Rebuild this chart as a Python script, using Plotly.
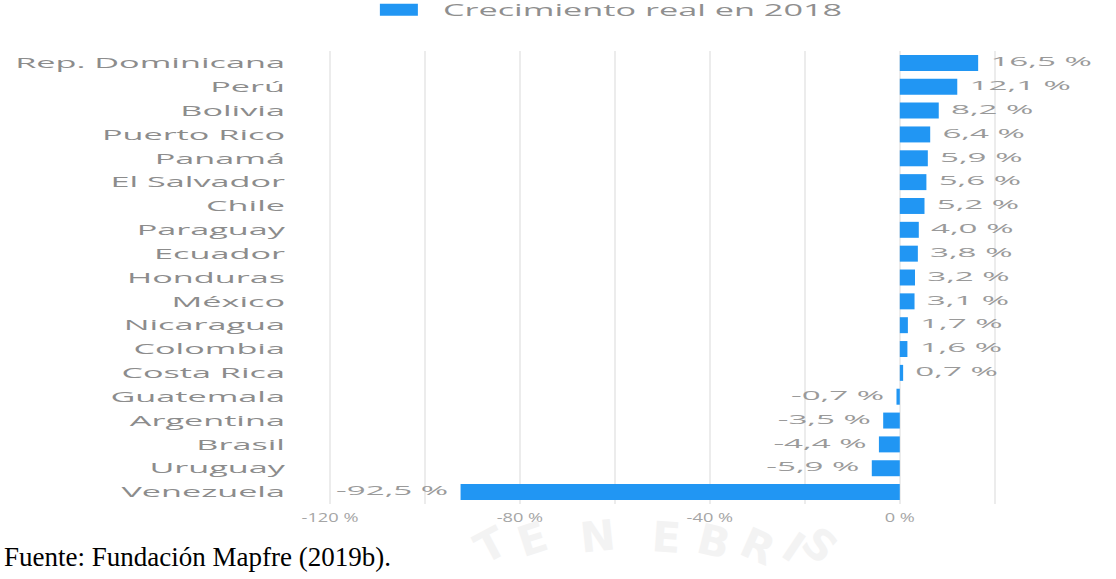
import plotly.graph_objects as go

countries = ["Rep. Dominicana", "Perú", "Bolivia", "Puerto Rico", "Panamá", "El Salvador",
             "Chile", "Paraguay", "Ecuador", "Honduras", "México", "Nicaragua", "Colombia",
             "Costa Rica", "Guatemala", "Argentina", "Brasil", "Uruguay", "Venezuela"]
growth = [16.5, 12.1, 8.2, 6.4, 5.9, 5.6, 5.2, 4.0, 3.8, 3.2, 3.1, 1.7, 1.6, 0.7,
          -0.7, -3.5, -4.4, -5.9, -92.5]
value_labels = ["16,5 %", "12,1 %", "8,2 %", "6,4 %", "5,9 %", "5,6 %", "5,2 %", "4,0 %",
                "3,8 %", "3,2 %", "3,1 %", "1,7 %", "1,6 %", "0,7 %", "-0,7 %", "-3,5 %",
                "-4,4 %", "-5,9 %", "-92,5 %"]
tick_vals = [-120, -100, -80, -60, -40, -20, 0, 20]
tick_text = ["-120 %", "", "-80 %", "", "-40 %", "", "0 %", ""]
series_name = "Crecimiento real en 2018"
source_text = "Fuente: Fundación Mapfre (2019b)."
watermark_letters = ["T", "E", "N", "E", "B", "R", "I", "S"]

BLUE = "#2196F3"
GRAY = "#9a9a9a"
FONT = "Open Sans"

W, H = 1116, 579
ML, MR, MT, MB = 292, 31, 51, 75
PW, PH = W - ML - MR, H - MT - MB

def px_to_paper(px, py):
    return (px - ML) / PW, (H - MB - py) / PH

fig = go.Figure()
fig.add_trace(go.Bar(
    x=growth, y=countries, orientation="h", name=series_name,
    marker=dict(color=BLUE, line=dict(width=0)),
))
fig.add_trace(go.Scatter(
    x=growth, y=countries, mode="markers+text", text=value_labels,
    textposition=["middle right" if v >= 0 else "middle left" for v in growth],
    marker=dict(size=18, color="rgba(0,0,0,0)"),
    textfont=dict(family=FONT, size=13, color=GRAY),
    showlegend=False, hoverinfo="skip", cliponaxis=False,
))

annotations = []
# faint watermark letters (background decoration)
wm_pos = [(490, 545, -28), (532, 539, -18), (597, 536, -6), (666, 537, 4),
          (714, 541, 14), (758, 546, 24), (794, 547, 34), (820, 545, 42)]
for ch, (px, py, ang) in zip(watermark_letters, wm_pos):
    ax_, ay_ = px_to_paper(px, py)
    annotations.append(dict(text=ch, xref="paper", yref="paper", x=ax_, y=ay_,
                            xanchor="center", yanchor="middle", showarrow=False,
                            textangle=ang,
                            font=dict(family="DejaVu Sans", size=42, color="#f3f3f3",
                                      weight="bold")))
sx, sy = px_to_paper(2, 557)
annotations.append(dict(text=source_text, xref="paper", yref="paper",
                        x=sx, y=sy, xanchor="left", yanchor="middle", showarrow=False,
                        font=dict(family="Liberation Serif", size=27, color="black")))

fig.update_layout(
    width=W, height=H,
    margin=dict(l=ML, r=MR, t=MT, b=MB, autoexpand=False),
    paper_bgcolor="white", plot_bgcolor="white",
    bargap=0.33,
    font=dict(family=FONT, color=GRAY),
    showlegend=True,
    legend=dict(orientation="h", xref="container", yref="container",
                x=0.3395, y=0.983, xanchor="left", yanchor="middle",
                entrywidth=440,
                font=dict(family=FONT, size=16, color="#8f8f8f"),
                bgcolor="rgba(0,0,0,0)"),
    xaxis=dict(range=[-128, 39], tickvals=tick_vals, ticktext=tick_text,
               showgrid=True, gridcolor="#ececec", gridwidth=2,
               zeroline=False, showline=False, ticks="", automargin=False,
               ticklabelstandoff=4,
               tickfont=dict(family=FONT, size=13, color="#a5a5a5")),
    yaxis=dict(range=[len(countries) - 0.5, -0.5], showgrid=False, zeroline=False,
               showline=False, ticks="", ticklabelstandoff=6, automargin=False,
               tickfont=dict(family=FONT, size=15, color="#8c8c8c")),
    annotations=annotations,
)

post = """
document.body.style.margin = '0';
var gd = document.getElementById('{plot_id}');
function stretch(sel, f){
  gd.querySelectorAll(sel).forEach(function(t){
    var w = t.getComputedTextLength();
    if (w > 0){ t.setAttribute('textLength', (w*f).toFixed(1)); t.setAttribute('lengthAdjust','spacingAndGlyphs'); }
  });
}
stretch('.ytick text', 2.28);
stretch('.xtick text', 1.4);
stretch('.legendtext', 2.14);
stretch('.textpoint text', 2.55);
gd.querySelectorAll('.legend [clip-path]').forEach(function(e){ e.removeAttribute('clip-path'); });
gd.querySelectorAll('.legend').forEach(function(e){ e.style.overflow = 'visible'; });
gd.querySelectorAll('.legendpoints path').forEach(function(p){
  p.setAttribute('d', 'M39,6H1V-6H39Z');
  p.removeAttribute('transform');
});
gd.querySelectorAll('.legendtext').forEach(function(t){
  var x = parseFloat(t.getAttribute('x') || '0');
  t.setAttribute('x', (x + 24).toString());
});
"""

fig.write_html("out.html", post_script=post, config={"displayModeBar": False})
